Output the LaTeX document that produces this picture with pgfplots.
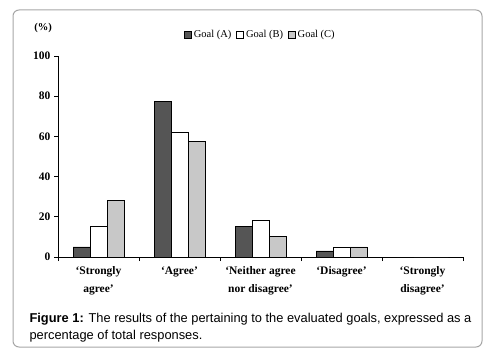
\documentclass[border=0pt]{standalone}
\usepackage{pgfplots}
\pgfplotsset{compat=1.18}
\usepackage{fontspec}
\setmainfont{Liberation Serif}
\newfontfamily\arial{Liberation Sans}
\definecolor{gA}{RGB}{85,85,85}
\definecolor{gC}{RGB}{200,200,200}
\begin{document}
\begin{tikzpicture}[x=1pt,y=1pt]
\path (0,0) rectangle (490,357);
\draw[rounded corners=6pt, color=black!35, line width=1pt] (13,10) rectangle (482,347);
\begin{axis}[
  at={(58pt,100pt)}, anchor=south west,
  scale only axis, width=405pt, height=201pt,
  ybar=0pt, bar width=17pt,
  xmin=-0.5, xmax=4.5, ymin=0, ymax=100,
  axis x line=bottom, axis y line=left,
  axis line style={-, line width=0.8pt},
  xtick={0,1,2,3,4},
  xticklabels={{‘Strongly\\agree’},{‘Agree’},{‘Neither agree\\nor disagree’},{‘Disagree’},{‘Strongly\\disagree’}},
  minor xtick={-0.5,0.5,1.5,2.5,3.5,4.5},
  major x tick style={draw=none},
  minor tick length=4pt,
  major tick length=4pt,
  tick align=outside,
  tick style={line width=0.8pt, black},
  ytick={0,20,40,60,80,100},
  xticklabel style={align=center, font=\bfseries\fontsize{11.5}{17.5}\selectfont, yshift=-2pt},
  yticklabel style={font=\bfseries\fontsize{11.5}{12}\selectfont},
  /pgf/number format/assume math mode=true,
  legend style={at={(0.5,1.105)}, anchor=center, draw=none, font=\fontsize{10.5}{12}\selectfont, legend columns=3, /tikz/every even column/.append style={column sep=3pt}},
  legend image code/.code={\draw[#1, line width=0.6pt] (0pt,-3.5pt) rectangle (7pt,3.5pt);},
]
\addplot[fill=gA, draw=black, line width=0.8pt] coordinates {(0,5) (1,77.4) (2,15.4) (3,3) (4,0)};
\addplot[fill=white, draw=black, line width=0.8pt] coordinates {(0,15.4) (1,62) (2,18.4) (3,5) (4,0)};
\addplot[fill=gC, draw=black, line width=0.8pt] coordinates {(0,28.3) (1,57.5) (2,10.4) (3,5) (4,0)};
\legend{Goal (A),Goal (B),Goal (C)}
\end{axis}
\node[font=\bfseries\fontsize{10.5}{12}\selectfont] at (43,329) {(\%)};
\node[anchor=base west, font=\arial\fontsize{12.85}{14}\selectfont] at (26,35) {\textbf{Figure 1:} The results of the pertaining to the evaluated goals, expressed as a};
\node[anchor=base west, font=\arial\fontsize{12.85}{14}\selectfont] at (26,18) {percentage of total responses.};
\end{tikzpicture}
\end{document}
